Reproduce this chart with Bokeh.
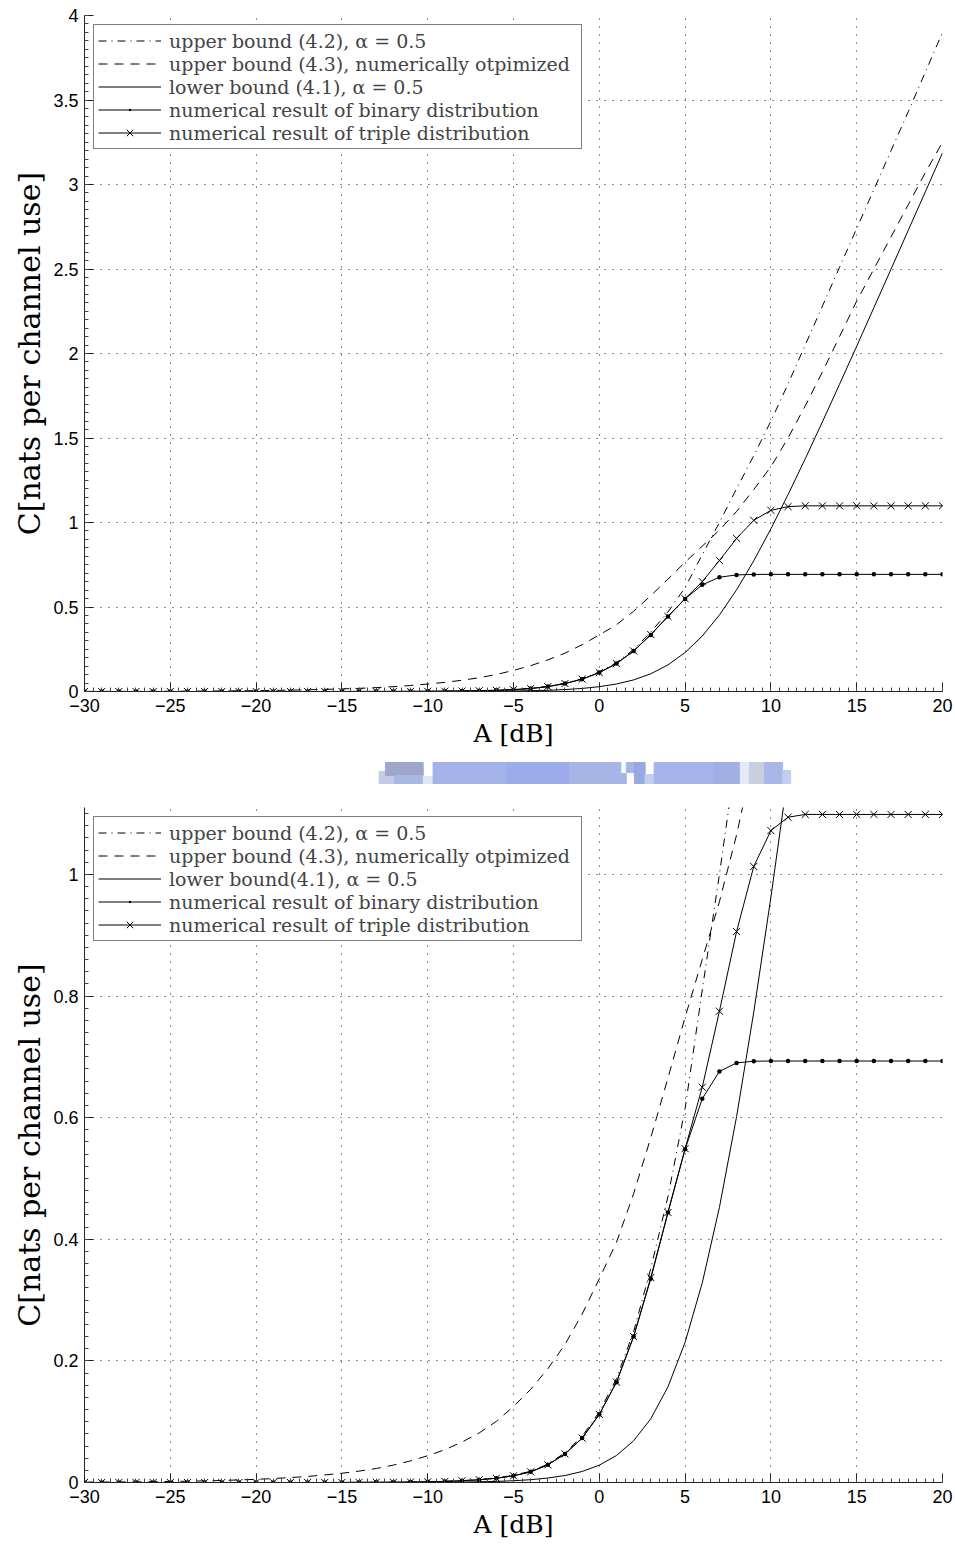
import numpy as np
from bokeh.plotting import figure
from bokeh.models import (Range1d, FixedTicker, CustomJSTickFormatter, Legend,
                          LegendItem, ColumnDataSource)
from bokeh.layouts import column
from bokeh.embed import file_html
from bokeh.resources import INLINE

# Peak amplitude A in dB (one sample per dB)
snr_db = list(range(-30, 21))

# Upper bound (4.2), alpha = 0.5
upper_42 = [0.0000, 0.0000, 0.0000, 0.0000, 0.0000, 0.0000, 0.0000, 0.0000, 0.0000, 0.0000,
            0.0000, 0.0000, 0.0000, 0.0000, 0.0000, 0.0001, 0.0002, 0.0003, 0.0005, 0.0008,
            0.0012, 0.0019, 0.0030, 0.0048, 0.0075, 0.0118, 0.0185, 0.0300, 0.0490, 0.0760,
            0.1160, 0.1710, 0.2480, 0.3520, 0.4700, 0.6150, 0.8100, 1.0000, 1.2000, 1.3950,
            1.6000, 1.8200, 2.0500, 2.2800, 2.5100, 2.7400, 2.9700, 3.2000, 3.4300, 3.6650,
            3.9000]

# Upper bound (4.3), numerically optimized
upper_43 = [0.0006, 0.0007, 0.0009, 0.0011, 0.0014, 0.0017, 0.0021, 0.0027, 0.0033, 0.0042,
            0.0052, 0.0065, 0.0081, 0.0100, 0.0124, 0.0152, 0.0187, 0.0230, 0.0286, 0.0355,
            0.0440, 0.0540, 0.0665, 0.0815, 0.1005, 0.1250, 0.1530, 0.1870, 0.2270, 0.2770,
            0.3350, 0.3950, 0.4750, 0.5670, 0.6650, 0.7650, 0.8600, 0.9550, 1.0650, 1.1950,
            1.3300, 1.5000, 1.6900, 1.8900, 2.1000, 2.3100, 2.5000, 2.6900, 2.8800, 3.0700,
            3.2500]

# Lower bound (4.1), alpha = 0.5
lower_41 = [0.0000, 0.0000, 0.0000, 0.0000, 0.0000, 0.0000, 0.0000, 0.0000, 0.0000, 0.0000,
            0.0000, 0.0000, 0.0000, 0.0000, 0.0000, 0.0000, 0.0001, 0.0001, 0.0001, 0.0002,
            0.0003, 0.0005, 0.0007, 0.0012, 0.0018, 0.0029, 0.0046, 0.0073, 0.0115, 0.0181,
            0.0285, 0.0444, 0.0686, 0.1048, 0.1572, 0.2305, 0.3282, 0.4523, 0.6017, 0.7732,
            0.9625, 1.1650, 1.3770, 1.5950, 1.8180, 2.0430, 2.2710, 2.4990, 2.7280, 2.9570,
            3.1870]

# Mutual information of the binary input distribution
binary_mi = [0.0000, 0.0000, 0.0000, 0.0000, 0.0000, 0.0000, 0.0000, 0.0000, 0.0000, 0.0000,
             0.0000, 0.0000, 0.0000, 0.0000, 0.0000, 0.0001, 0.0002, 0.0003, 0.0004, 0.0007,
             0.0011, 0.0018, 0.0028, 0.0045, 0.0070, 0.0110, 0.0175, 0.0290, 0.0470, 0.0730,
             0.1120, 0.1650, 0.2400, 0.3350, 0.4440, 0.5480, 0.6310, 0.6760, 0.6900, 0.6928,
             0.6931, 0.6931, 0.6931, 0.6931, 0.6931, 0.6931, 0.6931, 0.6931, 0.6931, 0.6931,
             0.6931]

# Mutual information of the triple input distribution
triple_mi = [0.0000, 0.0000, 0.0000, 0.0000, 0.0000, 0.0000, 0.0000, 0.0000, 0.0000, 0.0000,
             0.0000, 0.0000, 0.0000, 0.0000, 0.0000, 0.0001, 0.0002, 0.0003, 0.0004, 0.0007,
             0.0011, 0.0018, 0.0028, 0.0045, 0.0070, 0.0110, 0.0175, 0.0290, 0.0470, 0.0730,
             0.1120, 0.1650, 0.2400, 0.3370, 0.4440, 0.5490, 0.6500, 0.7750, 0.9060, 1.0130,
             1.0720, 1.0940, 1.0986, 1.0986, 1.0986, 1.0986, 1.0986, 1.0986, 1.0986, 1.0986,
             1.0986]

x_ticks = [-30, -25, -20, -15, -10, -5, 0, 5, 10, 15, 20]
y_ticks_top = [0, 0.5, 1, 1.5, 2, 2.5, 3, 3.5, 4]
y_ticks_bottom = [0, 0.2, 0.4, 0.6, 0.8, 1]

labels_top = ["upper bound (4.2), \u03b1 = 0.5",
              "upper bound (4.3), numerically otpimized",
              "lower bound (4.1), \u03b1 = 0.5",
              "numerical result of binary distribution",
              "numerical result of triple distribution"]
labels_bottom = ["upper bound (4.2), \u03b1 = 0.5",
                 "upper bound (4.3), numerically otpimized",
                 "lower bound(4.1), \u03b1 = 0.5",
                 "numerical result of binary distribution",
                 "numerical result of triple distribution"]

x_label = "A [dB]"
y_label = "C[nats per channel use]"

SERIF = "DejaVu Serif"
DASH = "9 7"
DASH_DOT = "8 5 1 5"

source = ColumnDataSource(dict(x=snr_db, u42=upper_42, u43=upper_43, lo=lower_41,
                               bi=binary_mi, tri=triple_mi))

TICK_FMT = CustomJSTickFormatter(
    code="return String(Math.round(tick * 100) / 100).replace('-', '\u2212');")


def make_panel(height, border_top, border_bottom, y_max, y_ticks, y_minor_step, labels):
    p = figure(width=955, height=height,
               x_range=Range1d(-30, 20), y_range=Range1d(0, y_max),
               output_backend="svg", toolbar_location=None,
               min_border_left=84, min_border_right=13,
               min_border_top=border_top, min_border_bottom=border_bottom,
               outline_line_color=None, background_fill_color="white",
               border_fill_color="white")

    p.xaxis.ticker = FixedTicker(ticks=x_ticks,
                                 minor_ticks=list(np.arange(-30, 20.001, 0.5)))
    p.yaxis.ticker = FixedTicker(ticks=y_ticks,
                                 minor_ticks=list(np.arange(0, y_max + 1e-9, y_minor_step)))

    for ax in (p.xaxis[0], p.yaxis[0]):
        ax.formatter = TICK_FMT
        ax.axis_line_color = "#222222"
        ax.axis_line_width = 1
        ax.major_tick_in = 9
        ax.major_tick_out = 0
        ax.minor_tick_in = 4
        ax.minor_tick_out = 0
        ax.major_tick_line_color = "#222222"
        ax.minor_tick_line_color = "#444444"
        ax.major_label_text_font = "Liberation Sans"
        ax.major_label_text_font_size = "18px"
        ax.major_label_text_color = "black"
        ax.axis_label_text_font = SERIF
        ax.axis_label_text_font_style = "normal"
        ax.axis_label_text_color = "black"

    p.xaxis.major_label_standoff = 7
    p.yaxis.major_label_standoff = 6
    p.xaxis.axis_label = x_label
    p.yaxis.axis_label = y_label
    p.xaxis.axis_label_text_font_size = "25px"
    p.yaxis.axis_label_text_font_size = "30px"
    p.xaxis.axis_label_standoff = 4
    p.yaxis.axis_label_standoff = 3

    for g in (p.xgrid[0], p.ygrid[0]):
        g.grid_line_color = "black"
        g.grid_line_alpha = 0.9
        g.grid_line_dash = "1 7"
        g.grid_line_width = 1

    r_u42 = p.line("x", "u42", source=source, line_color="black", line_width=1,
                   line_dash=DASH_DOT)
    r_u43 = p.line("x", "u43", source=source, line_color="black", line_width=1,
                   line_dash=DASH)
    r_lo = p.line("x", "lo", source=source, line_color="black", line_width=1)
    r_bi = p.line("x", "bi", source=source, line_color="black", line_width=1)
    r_bi_m = p.scatter("x", "bi", source=source, marker="dot", size=18,
                       line_color="black", line_width=1)
    r_tri = p.line("x", "tri", source=source, line_color="black", line_width=1)
    r_tri_m = p.scatter("x", "tri", source=source, marker="x", size=10,
                        line_color="black", line_width=1)

    items = [LegendItem(label=labels[0], renderers=[r_u42]),
             LegendItem(label=labels[1], renderers=[r_u43]),
             LegendItem(label=labels[2], renderers=[r_lo]),
             LegendItem(label=labels[3], renderers=[r_bi, r_bi_m]),
             LegendItem(label=labels[4], renderers=[r_tri, r_tri_m])]
    legend = Legend(items=items, location="top_left", margin=9, padding=4, spacing=0,
                    label_text_font=SERIF, label_text_font_size="19px",
                    label_height=23, glyph_height=23, glyph_width=63,
                    label_standoff=8, label_width=408,
                    border_line_color="black", border_line_width=1.5,
                    background_fill_color="white", background_fill_alpha=1)
    p.add_layout(legend)
    return p


top = make_panel(760, 15, 69, 4, y_ticks_top, 0.05, labels_top)
bottom = make_panel(750, 7, 68, 1.11, y_ticks_bottom, 0.02, labels_bottom)

# Bluish strip between the two panels
band = figure(width=955, height=40, x_range=Range1d(0, 955), y_range=Range1d(0, 40),
              x_axis_type=None, y_axis_type=None, output_backend="svg",
              toolbar_location=None, min_border=0, outline_line_color=None)
band.grid.visible = False
strip = dict(
    left=[328, 335, 345, 377, 388, 470, 540, 597, 603, 612, 624, 634, 700, 730, 740, 757, 777],
    right=[345, 377, 377, 388, 470, 540, 597, 603, 612, 624, 634, 700, 730, 740, 757, 777, 786],
    bottom=[17, 25, 17, 17, 17, 17, 17, 17, 28, 17, 17, 17, 17, 17, 17, 17, 17],
    top=[29, 38, 25, 24, 38, 38, 38, 27, 38, 38, 26, 38, 38, 38, 38, 38, 30],
    color=["#c3cbe6", "#9ea7c9", "#aab6e3", "#dfe6f6", "#a4b2ea", "#9cacea", "#a7b4e6",
           "#a7b4e6", "#a7b4e6", "#98a8e2", "#c2cdf0", "#a6b4ec", "#a0b0e4", "#e4eaf7",
           "#c9cfdf", "#a9b6e8", "#c3cdef"])
band.quad(left="left", right="right", bottom="bottom", top="top", color="color",
          source=ColumnDataSource(strip))

layout = column(top, band, bottom, spacing=0)
open("out.html", "w").write(file_html(layout, INLINE))
